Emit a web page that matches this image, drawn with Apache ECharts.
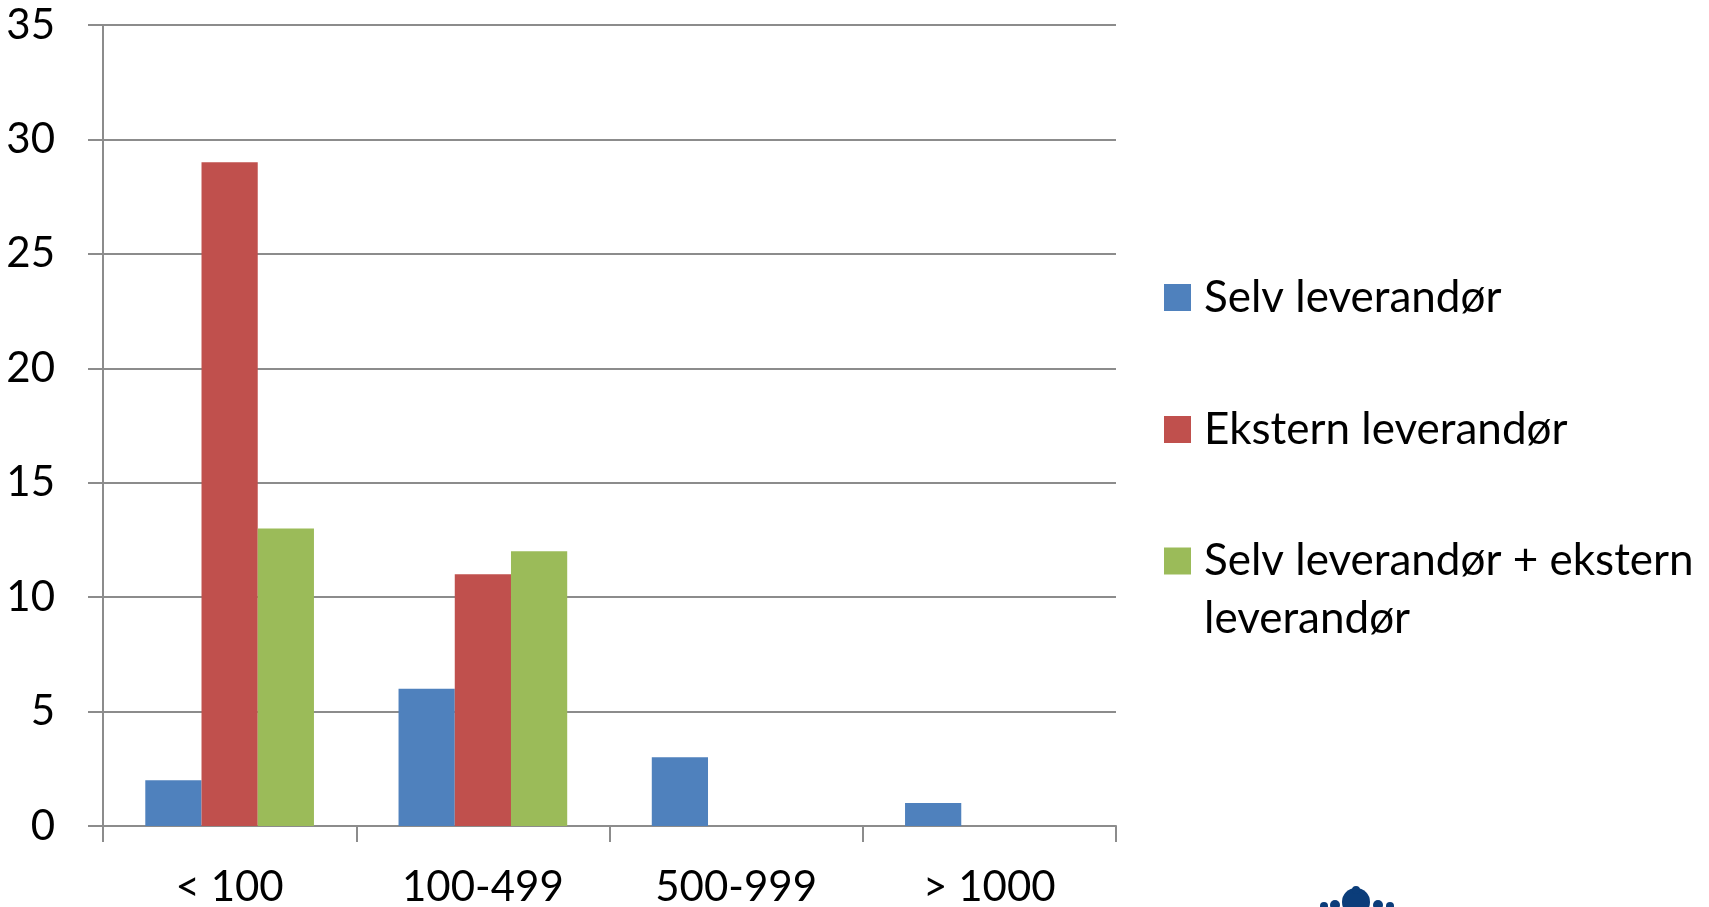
<!DOCTYPE html>
<html>
<head>
<meta charset="utf-8">
<script src="https://cdn.jsdelivr.net/npm/echarts@6/dist/echarts.min.js"></script>
<style>
html,body{margin:0;padding:0;background:#fff;}
#chart{width:1709px;height:907px;}
</style>
</head>
<body>
<div id="chart"></div>
<script>
const categories = ['< 100', '100-499', '500-999', '> 1000'];
const seriesNames = ['Selv leverandør', 'Ekstern leverandør', 'Selv leverandør + ekstern leverandør'];
const selvValues = [2, 6, 3, 1];
const eksternValues = [29, 11, 0, 0];
const beggeValues = [13, 12, 0, 0];
const yTicks = [0, 5, 10, 15, 20, 25, 30, 35];

const colors = ['#4F81BD', '#C0504D', '#9BBB59'];
const FONT = 'Lato';
const FS = 44;
const AFS = 42;
const GRAY = '#8C8C8C';

const chart = echarts.init(document.getElementById('chart'));

function legendFor(i, top, twoLine) {
  const rich = {
    s: { fontFamily: FONT, fontSize: FS, color: '#000', lineHeight: 58, padding: [0, 0, 0, 8] },
    e: { fontFamily: FONT, fontSize: FS, color: '#000', lineHeight: 58, height: 58 }
  };
  return {
    data: [seriesNames[i]],
    orient: 'vertical',
    left: 1164,
    top: top,
    padding: 0,
    itemWidth: 27,
    itemHeight: 27,
    icon: 'rect',
    selectedMode: false,
    formatter: twoLine
      ? function () { return '{e| }\n{s|Selv leverandør + ekstern}\n{s|leverandør}'; }
      : function (name) { return '{s|' + name + '}'; },
    textStyle: {
      fontFamily: FONT,
      fontSize: FS,
      color: '#000',
      lineHeight: 58,
      rich: rich
    }
  };
}

const option = {
  animation: false,
  backgroundColor: '#fff',
  color: colors,
  grid: { left: 103, right: 593, top: 25, bottom: 81, containLabel: false, outerBoundsMode: 'none' },
  legend: [
    legendFor(0, 268.5, false),
    legendFor(1, 400.5, false),
    legendFor(2, 474, true)
  ],
  xAxis: {
    type: 'category',
    data: categories,
    axisLine: { show: true, lineStyle: { color: GRAY, width: 2 } },
    axisTick: { show: true, length: 16, lineStyle: { color: GRAY, width: 2 } },
    axisLabel: { fontFamily: FONT, fontSize: AFS, color: '#000', margin: 40 },
    splitLine: { show: false }
  },
  yAxis: {
    type: 'value',
    min: 0,
    max: 35,
    interval: 5,
    axisLine: { show: true, lineStyle: { color: GRAY, width: 2 } },
    axisTick: { show: true, length: 15, lineStyle: { color: GRAY, width: 2 } },
    axisLabel: {
      fontFamily: FONT, fontSize: AFS, color: '#000', margin: 48,
      formatter: function (v) { return yTicks.indexOf(v) >= 0 ? String(v) : ''; }
    },
    splitLine: { show: true, lineStyle: { color: GRAY, width: 2 } }
  },
  series: [
    { name: seriesNames[0], type: 'bar', data: selvValues, barWidth: '22.2%', barGap: '0%' },
    { name: seriesNames[1], type: 'bar', data: eksternValues, barWidth: '22.2%', barGap: '0%' },
    { name: seriesNames[2], type: 'bar', data: beggeValues, barWidth: '22.2%', barGap: '0%' }
  ],
  graphic: [
    { type: 'group', left: 1320, top: 886, silent: true, children: [
      { type: 'circle', shape: { cx: 38, cy: 17, r: 14 }, style: { fill: '#0B3D7A' } },
      { type: 'circle', shape: { cx: 38, cy: 5, r: 4 }, style: { fill: '#0B3D7A' } },
      { type: 'circle', shape: { cx: 17, cy: 20, r: 5 }, style: { fill: '#0B3D7A' } },
      { type: 'circle', shape: { cx: 6, cy: 21, r: 4 }, style: { fill: '#0B3D7A' } },
      { type: 'circle', shape: { cx: 60, cy: 20, r: 5 }, style: { fill: '#0B3D7A' } },
      { type: 'circle', shape: { cx: 72, cy: 21, r: 4 }, style: { fill: '#0B3D7A' } }
    ] }
  ]
};

chart.setOption(option);
</script>
</body>
</html>
